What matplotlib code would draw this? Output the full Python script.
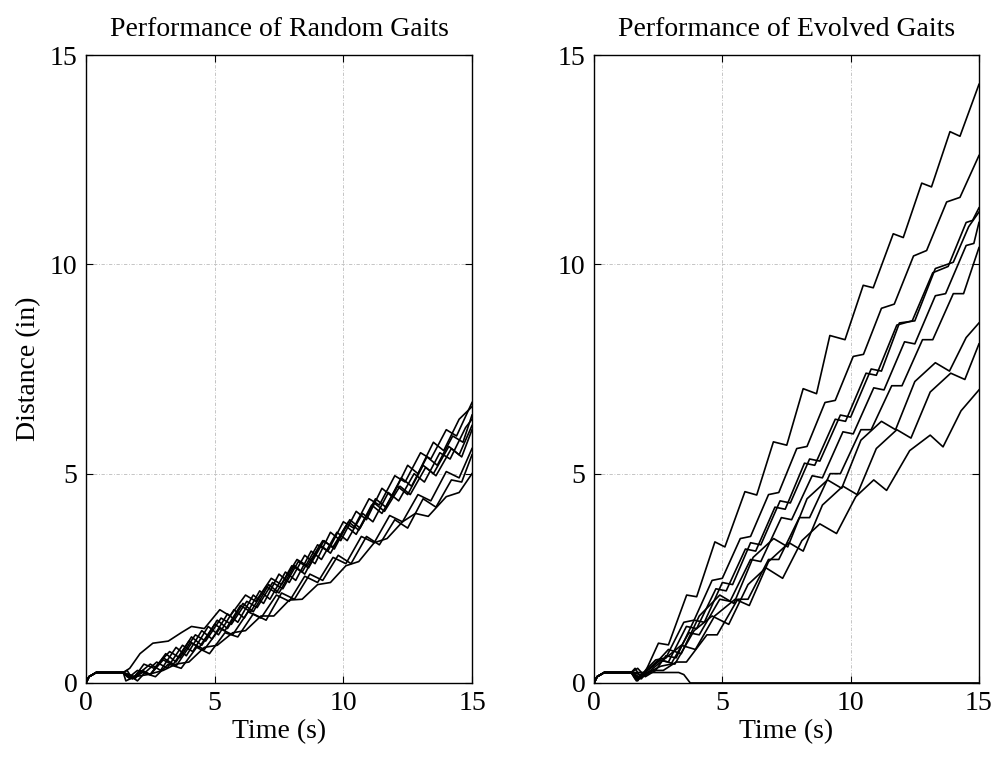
import numpy as np
import matplotlib
matplotlib.use('Agg')
import matplotlib.pyplot as plt

plt.rcParams['font.family'] = ['Liberation Serif', 'DejaVu Serif']

# --- common start of every run: settle, then stand still ---
t_start = [0.0, 0.12, 0.4]
d_start = [0.0, 0.15, 0.25]

# --- random gaits (left panel), (time s, distance in) ---
rand_t = [
    [1.45, 1.6, 1.9, 2.2, 2.5, 3.0, 3.4, 4.0, 4.4, 5.0, 5.4, 6.0, 6.4, 7.0, 7.4, 8.0, 8.4, 9.0, 9.4, 10.0, 10.4, 11.0, 11.4, 12.0, 12.4, 13.0, 13.4, 14.0, 14.4, 15.0],
    [1.45, 1.7, 2.0, 2.5, 2.9, 3.5, 3.9, 4.5, 4.9, 5.5, 5.9, 6.5, 6.9, 7.5, 7.9, 8.5, 8.9, 9.5, 9.9, 10.5, 10.9, 11.5, 11.9, 12.5, 12.9, 13.5, 13.9, 14.5, 15.0],
    [1.45, 1.55, 1.9, 2.25, 2.65, 3.25, 3.65, 4.25, 4.65, 5.25, 5.65, 6.25, 6.65, 7.25, 7.65, 8.25, 8.65, 9.25, 9.65, 10.25, 10.65, 11.25, 11.65, 12.25, 12.65, 13.25, 13.65, 14.25, 14.65, 15.0],
    [1.45, 1.65, 2.0, 2.3, 2.75, 3.15, 3.75, 4.15, 4.75, 5.15, 5.75, 6.15, 6.75, 7.15, 7.75, 8.15, 8.75, 9.15, 9.75, 10.15, 10.75, 11.15, 11.75, 12.15, 12.75, 13.15, 13.75, 14.15, 14.75, 15.0],
    [1.45, 1.6, 1.8, 2.1, 2.5, 3.1, 3.5, 4.1, 4.5, 5.1, 5.5, 6.1, 6.5, 7.1, 7.5, 8.1, 8.5, 9.1, 9.5, 10.1, 10.5, 11.1, 11.5, 12.1, 12.5, 13.1, 13.5, 14.1, 14.5, 15.0],
    [1.45, 1.7, 2.1, 2.6, 3.2, 3.7, 4.1, 4.6, 5.2, 5.6, 6.2, 6.6, 7.2, 7.6, 8.2, 8.6, 9.2, 9.6, 10.2, 10.6, 11.2, 11.6, 12.2, 12.6, 13.2, 13.6, 14.2, 14.6, 15.0],
    [1.45, 1.7, 2.0, 2.5, 3.0, 3.5, 4.1, 4.6, 5.2, 5.7, 6.3, 6.8, 7.4, 7.9, 8.5, 9.0, 9.6, 10.1, 10.7, 11.2, 11.8, 12.3, 12.9, 13.4, 14.0, 14.5, 15.0],
    [1.45, 1.8, 2.2, 2.7, 3.2, 3.7, 4.3, 4.8, 5.4, 5.9, 6.5, 7.0, 7.6, 8.1, 8.7, 9.2, 9.8, 10.3, 10.9, 11.4, 12.0, 12.5, 13.1, 13.6, 14.2, 14.6, 15.0],
    [1.45, 1.9, 2.4, 3.0, 3.5, 4.0, 4.6, 5.1, 5.7, 6.2, 6.8, 7.3, 7.9, 8.4, 9.0, 9.5, 10.1, 10.6, 11.2, 11.7, 12.3, 12.8, 13.3, 14.0, 14.5, 15.0],
]
rand_d = [
    [0.25, 0.15, 0.1, 0.3, 0.2, 0.6, 0.45, 1.0, 0.85, 1.4, 1.25, 1.85, 1.7, 2.3, 2.15, 2.8, 2.65, 3.3, 3.15, 3.85, 3.7, 4.4, 4.25, 4.95, 4.8, 5.5, 5.35, 6.05, 5.9, 6.7],
    [0.25, 0.1, 0.2, 0.45, 0.3, 0.85, 0.65, 1.25, 1.05, 1.65, 1.45, 2.1, 1.9, 2.6, 2.4, 3.05, 2.85, 3.6, 3.4, 4.1, 3.9, 4.65, 4.45, 5.2, 5.0, 5.75, 5.55, 6.3, 6.6],
    [0.25, 0.05, 0.15, 0.45, 0.35, 0.75, 0.6, 1.15, 1.0, 1.55, 1.4, 1.95, 1.8, 2.4, 2.25, 2.9, 2.75, 3.4, 3.2, 3.9, 3.7, 4.4, 4.2, 4.9, 4.7, 5.4, 5.2, 5.9, 5.75, 6.4],
    [0.25, 0.2, 0.05, 0.25, 0.5, 0.35, 0.9, 0.75, 1.35, 1.15, 1.75, 1.55, 2.2, 2.0, 2.65, 2.45, 3.15, 2.95, 3.6, 3.4, 4.05, 3.85, 4.55, 4.35, 5.0, 4.8, 5.5, 5.35, 6.1, 6.3],
    [0.25, 0.3, 0.1, 0.3, 0.2, 0.7, 0.5, 1.1, 0.9, 1.5, 1.3, 1.9, 1.7, 2.35, 2.15, 2.8, 2.6, 3.3, 3.1, 3.75, 3.55, 4.25, 4.05, 4.7, 4.5, 5.2, 5.0, 5.65, 5.45, 6.15],
    [0.25, 0.35, 0.7, 0.95, 1.0, 1.2, 1.35, 1.3, 1.75, 1.6, 2.1, 1.95, 2.5, 2.35, 2.95, 2.8, 3.4, 3.25, 3.85, 3.65, 4.3, 4.1, 4.7, 4.5, 5.15, 4.95, 5.6, 5.4, 6.05],
    [0.25, 0.15, 0.3, 0.2, 0.55, 0.4, 0.95, 0.8, 1.3, 1.15, 1.7, 1.55, 2.1, 1.95, 2.55, 2.4, 3.0, 2.85, 3.5, 3.35, 4.0, 3.85, 4.5, 4.35, 5.05, 4.9, 5.6],
    [0.25, 0.1, 0.25, 0.15, 0.45, 0.35, 0.85, 0.7, 1.2, 1.1, 1.65, 1.5, 2.15, 2.0, 2.6, 2.45, 3.05, 2.85, 3.5, 3.3, 3.9, 3.7, 4.4, 4.2, 4.85, 4.8, 5.45],
    [0.25, 0.15, 0.2, 0.3, 0.45, 0.5, 0.85, 0.9, 1.2, 1.25, 1.6, 1.6, 1.98, 2.0, 2.35, 2.4, 2.8, 2.9, 3.35, 3.45, 3.85, 4.05, 3.98, 4.45, 4.55, 5.0],
]

# --- evolved gaits (right panel) ---
evol_t = [
    [1.45, 1.6, 1.85, 2.1, 2.51, 2.9, 3.61, 4.0, 4.71, 5.1, 5.88, 6.34, 6.99, 7.51, 8.15, 8.67, 9.19, 9.78, 10.49, 10.88, 11.66, 12.05, 12.77, 13.15, 13.87, 14.26, 15.0],
    [1.45, 1.7, 2.0, 2.4, 2.8, 3.5, 3.9, 4.6, 5.0, 5.7, 6.1, 6.8, 7.2, 7.9, 8.3, 9.0, 9.4, 10.1, 10.5, 11.2, 11.7, 12.45, 12.96, 13.74, 14.26, 15.0],
    [1.45, 1.6, 1.9, 2.5, 2.9, 3.6, 4.0, 4.75, 5.15, 5.9, 6.3, 7.05, 7.45, 8.2, 8.6, 9.4, 9.8, 10.6, 11.0, 11.8, 12.4, 13.2, 13.8, 14.5, 14.75, 15.0],
    [1.45, 1.7, 2.0, 2.4, 2.8, 3.2, 3.9, 4.3, 5.0, 5.4, 6.1, 6.5, 7.25, 7.65, 8.4, 8.8, 9.6, 10.0, 10.8, 11.2, 11.9, 12.5, 13.3, 14.0, 14.6, 15.0],
    [1.45, 1.65, 2.1, 2.6, 3.0, 3.7, 4.1, 4.9, 5.3, 6.1, 6.5, 7.3, 7.7, 8.5, 8.9, 9.7, 10.1, 10.9, 11.3, 12.1, 12.5, 13.3, 13.7, 14.5, 14.8, 15.0],
    [1.45, 1.8, 2.3, 2.7, 3.2, 3.6, 4.4, 4.8, 5.6, 6.0, 6.8, 7.2, 8.0, 8.4, 9.2, 9.6, 10.4, 10.8, 11.6, 12.0, 12.8, 13.2, 14.0, 14.4, 15.0],
    [1.45, 1.8, 2.3, 2.9, 3.4, 4.1, 4.9, 5.45, 6.2, 7.0, 7.55, 8.3, 9.1, 9.65, 10.4, 11.2, 11.75, 12.5, 13.3, 13.85, 14.5, 15.0],
    [1.45, 1.7, 2.2, 2.8, 3.4, 3.95, 4.7, 5.5, 6.05, 6.8, 7.6, 8.15, 8.9, 9.7, 10.25, 11.0, 11.8, 12.35, 13.1, 13.9, 14.45, 15.0],
    [1.45, 1.75, 2.2, 2.6, 3.15, 3.9, 4.6, 5.25, 6.0, 6.7, 7.35, 8.1, 8.8, 9.45, 10.2, 10.9, 11.4, 12.3, 13.1, 13.6, 14.3, 15.0],
]
evol_d = [
    [0.25, 0.35, 0.1, 0.4, 0.95, 0.91, 2.1, 2.06, 3.37, 3.25, 4.57, 4.49, 5.76, 5.68, 7.03, 6.91, 8.3, 8.2, 9.5, 9.44, 10.73, 10.64, 11.94, 11.85, 13.17, 13.06, 14.3],
    [0.25, 0.05, 0.3, 0.55, 0.6, 1.45, 1.5, 2.45, 2.5, 3.45, 3.5, 4.5, 4.55, 5.6, 5.65, 6.7, 6.75, 7.8, 7.85, 8.95, 9.05, 10.2, 10.33, 11.49, 11.6, 12.6],
    [0.25, 0.1, 0.2, 0.55, 0.5, 1.35, 1.3, 2.25, 2.2, 3.2, 3.15, 4.2, 4.15, 5.25, 5.2, 6.3, 6.25, 7.4, 7.35, 8.55, 8.65, 9.8, 9.95, 11.0, 11.05, 11.35],
    [0.25, 0.35, 0.15, 0.3, 0.65, 0.6, 1.5, 1.45, 2.4, 2.35, 3.35, 3.3, 4.35, 4.3, 5.35, 5.3, 6.4, 6.35, 7.5, 7.45, 8.6, 8.65, 9.9, 10.05, 10.9, 11.25],
    [0.25, 0.05, 0.25, 0.4, 0.45, 1.2, 1.15, 2.0, 1.95, 2.95, 2.9, 3.95, 3.9, 4.95, 4.9, 6.0, 5.95, 7.05, 7.0, 8.15, 8.1, 9.25, 9.3, 10.45, 10.5, 11.0],
    [0.25, 0.1, 0.3, 0.3, 0.5, 0.5, 1.15, 1.15, 2.0, 2.0, 2.95, 2.95, 3.95, 3.95, 5.0, 5.0, 6.05, 6.05, 7.1, 7.1, 8.2, 8.2, 9.3, 9.3, 10.4],
    [0.25, 0.2, 0.4, 0.8, 0.7, 1.6, 2.1, 1.9, 3.0, 3.45, 3.25, 4.4, 4.85, 4.65, 5.8, 6.25, 6.05, 7.2, 7.65, 7.45, 8.25, 8.6],
    [0.25, 0.1, 0.3, 0.6, 0.9, 0.8, 1.6, 2.0, 1.85, 2.9, 3.35, 3.15, 4.25, 4.7, 4.5, 5.6, 6.05, 5.85, 6.95, 7.4, 7.25, 8.1],
    [0.25, 0.15, 0.35, 0.55, 0.45, 1.25, 1.6, 1.4, 2.35, 2.75, 2.5, 3.4, 3.8, 3.57, 4.45, 4.85, 4.6, 5.55, 5.92, 5.64, 6.5, 7.0],
]

# one evolved gait fell over
fall_t = [0.0, 0.12, 0.4, 3.3, 3.5, 3.65, 3.75, 15.0]
fall_d = [0.0, 0.15, 0.25, 0.25, 0.2, 0.08, 0.0, 0.0]

titles = ['Performance of Random Gaits', 'Performance of Evolved Gaits']

fig = plt.figure(figsize=(9.96, 7.57), dpi=100)
ax1 = fig.add_axes([0.0863, 0.0978, 0.3876, 0.8295])
ax2 = fig.add_axes([0.5964, 0.0978, 0.3865, 0.8295])

for ax, ts, ds, title in [(ax1, rand_t, rand_d, titles[0]), (ax2, evol_t, evol_d, titles[1])]:
    for t, d in zip(ts, ds):
        ax.plot(t_start + t, d_start + d, color='black', linewidth=1.2)
    ax.set_xlim(0, 15)
    ax.set_ylim(0, 15)
    ax.set_xticks([0, 5, 10, 15])
    ax.set_yticks([0, 5, 10, 15])
    ax.grid(True, color='#bcbcbc', linestyle=(0, (4, 2, 1, 2)), linewidth=0.6)
    ax.tick_params(direction='in', top=True, right=True, length=5, labelsize=20, pad=6)
    for s in ax.spines.values():
        s.set_linewidth(1.0)
    ax.set_title(title, fontsize=20, pad=14)
    ax.set_xlabel('Time (s)', fontsize=20, labelpad=2)

ax2.plot(fall_t, fall_d, color='black', linewidth=1.2)
ax1.set_ylabel('Distance (in)', fontsize=20, labelpad=6)

fig.savefig('out.png', dpi=100)
